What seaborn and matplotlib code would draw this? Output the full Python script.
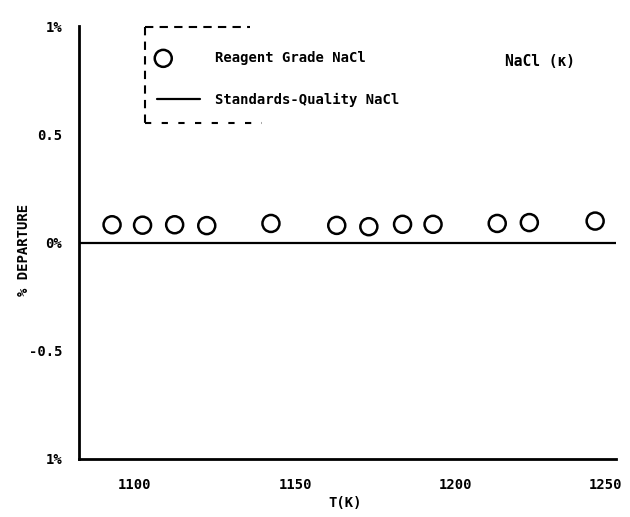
import matplotlib
matplotlib.use("Agg")
import matplotlib.pyplot as plt
import matplotlib.transforms as mtransforms
import seaborn as sns
import pandas as pd

# Data
temps_K = [1093, 1102.5, 1112.5, 1122.5, 1142.5, 1163, 1173, 1183.5, 1193, 1213, 1223, 1243.5]
departure_pct = [0.082, 0.080, 0.082, 0.078, 0.088, 0.079, 0.073, 0.084, 0.084, 0.088, 0.092, 0.099]
standard_level = 0.0

x_major = [1100, 1150, 1200, 1250]
x_minor = [1125, 1175, 1225]
y_major = [1.0, 0.5, 0.0, -0.5, -1.0]
y_major_labels = ["1%", "0.5", "0%", "-0.5", "1%"]
y_minor = [0.75, 0.25, -0.25, -0.75]

sns.set_theme(style="white")
plt.rcParams['font.family'] = ['DejaVu Sans Mono', 'DejaVu Sans']
plt.rcParams['font.weight'] = 'bold'
plt.rcParams['text.color'] = 'black'

df = pd.DataFrame({"T": temps_K, "dep": departure_pct})

AX_L, AX_B, AX_W, AX_H = 79, 58, 537, 433
AX_TOPPIX = 517 - AX_B  # pixel row (from top) of the x axis


def fx(px):
    return (px - AX_L) / AX_W


def fy(py):
    return (AX_TOPPIX - py) / AX_H


fig = plt.figure(figsize=(6.3, 5.17), dpi=100)
ax = fig.add_axes([AX_L/630, AX_B/517, AX_W/630, AX_H/517])

ax.axhline(standard_level, color="black", lw=1.6, label="Standards-Quality NaCl", zorder=1)
sns.scatterplot(data=df, x="T", y="dep", ax=ax, marker="o", s=150,
                facecolor="none", edgecolor="black", linewidth=1.8,
                label="Reagent Grade NaCl", zorder=3)

ax.set_xlim(1082.7, 1248.8)
ax.set_ylim(-1.0, 1.0)

for side in ["top", "right"]:
    ax.spines[side].set_visible(False)
for side in ["left", "bottom"]:
    ax.spines[side].set_color("black")
    ax.spines[side].set_linewidth(2.0)

ax.set_xticks(x_major)
ax.set_xticks(x_minor, minor=True)
ax.set_xticklabels([str(v) for v in x_major])
ax.set_yticks(y_major)
ax.set_yticklabels(y_major_labels)
ax.set_yticks(y_minor, minor=True)

ax.tick_params(axis="both", which="major", direction="in", length=15, width=1.6,
               color="black", labelsize=10, labelcolor="black")
ax.tick_params(axis="both", which="minor", direction="in", length=8, width=1.6,
               color="black")
ax.tick_params(axis="x", which="major", pad=14)
ax.tick_params(axis="y", which="major", pad=12)

# the 1250 label sits at the end of the axis without a tick mark
last = ax.xaxis.get_major_ticks()[-1]
last.tick1line.set_visible(False)
last.label1.set_clip_on(False)
shift = mtransforms.ScaledTranslation(-10/100, 0, fig.dpi_scale_trans)
last.label1.set_transform(last.label1.get_transform() + shift)

ax.set_xlabel("")
ax.set_ylabel("")
fig.text(24/630, 1 - 250/517, "% DEPARTURE", rotation=90, ha="center", va="center",
         fontsize=10, fontweight="bold", color="black")
fig.text(345/630, 1 - 503/517, "T(K)", ha="center", va="center", fontsize=10,
         fontweight="bold", color="black")

# Legend (order: circles first, then line)
handles, labels = ax.get_legend_handles_labels()
order = [labels.index("Reagent Grade NaCl"), labels.index("Standards-Quality NaCl")]
leg = ax.legend([handles[i] for i in order], [labels[i] for i in order],
                loc="upper left", bbox_to_anchor=(fx(157), fy(51)),
                frameon=False, fontsize=10, handlelength=3.1, handletextpad=1.05,
                labelspacing=2.0, borderpad=0, borderaxespad=0, labelcolor="black")
circ = leg.legend_handles[0]
off = circ.get_offsets().copy()
off[:, 0] -= 11
circ.set_offsets(off)

# dashed legend frame, open on the right
kw = dict(transform=ax.transAxes, clip_on=False, color="black", lw=1.5)
x0 = fx(145)
ytop = fy(27)
ybot = fy(123)
ax.plot([x0, fx(250)], [ytop, ytop], ls=(0, (4, 3)), **kw)
ax.plot([x0, x0], [ytop, ybot], ls=(0, (4, 3)), **kw)
ax.plot([x0, fx(262)], [ybot, ybot], ls=(0, (3, 5)), **kw)

ax.text(fx(505), fy(62), "NaCl (\u03ba)", transform=ax.transAxes,
        fontsize=10.5, fontweight="bold", ha="left", va="center", color="black")

fig.savefig("out.png", dpi=100)
